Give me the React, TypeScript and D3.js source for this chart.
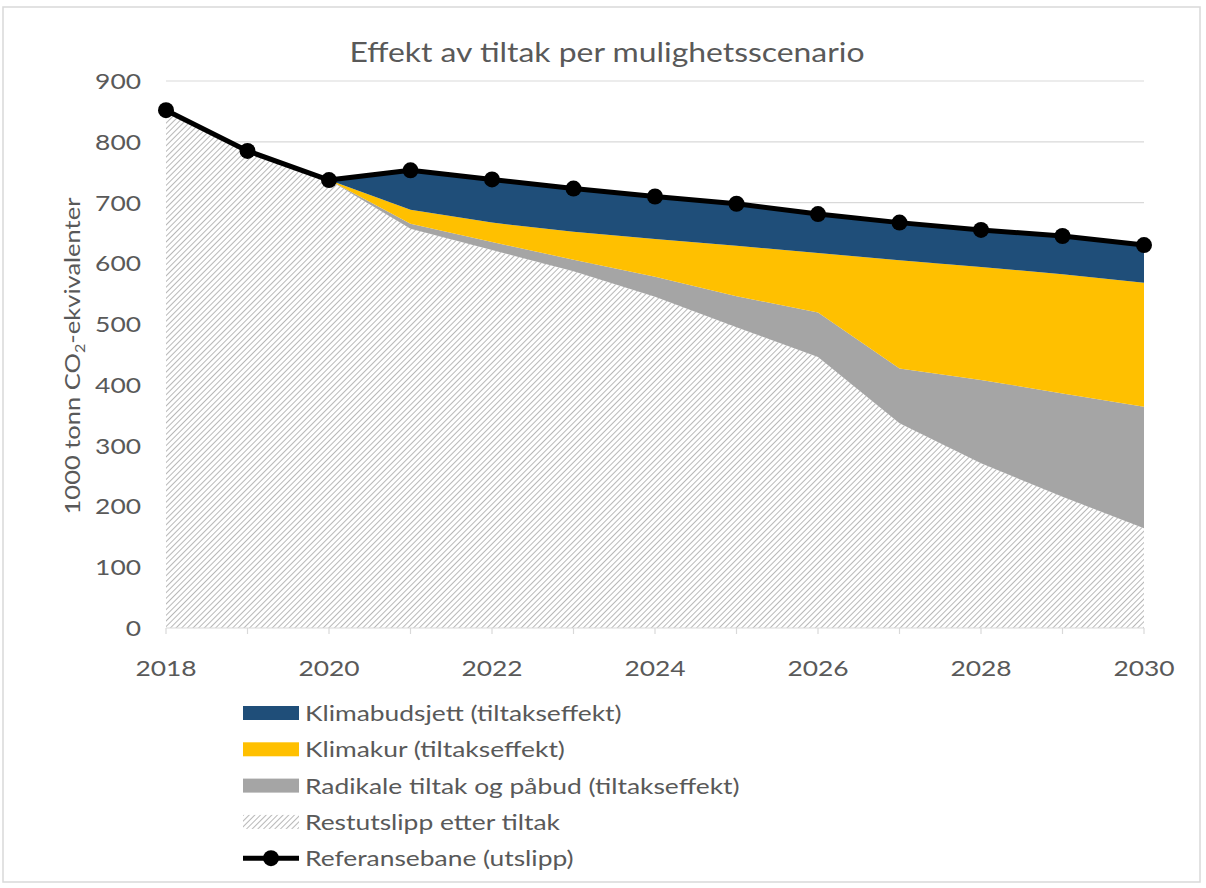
import { useMemo } from "react";
import * as d3 from "d3";

const years = [2018, 2019, 2020, 2021, 2022, 2023, 2024, 2025, 2026, 2027, 2028, 2029, 2030];
const referanse = [852, 785, 737, 753, 738, 723, 710, 698, 681, 667, 655, 645, 630];
const restutslipp = [852, 785, 737, 657, 622, 587, 545, 495, 446, 337, 271, 216, 164];
const radikale = [0, 0, 0, 8, 13, 19, 33, 51, 73, 90, 137, 170, 200];
const klimakur = [0, 0, 0, 23, 32, 46, 62, 83, 98, 178, 186, 196, 204];
const klimabudsjett = [0, 0, 0, 65, 71, 71, 70, 69, 64, 62, 61, 63, 62];
const yTicks = [0, 100, 200, 300, 400, 500, 600, 700, 800, 900];
const xLabelYears = [2018, 2020, 2022, 2024, 2026, 2028, 2030];

const keys = ["rest", "radikale", "klimakur", "klimabudsjett"] as const;
const fills: Record<string, string> = {
  rest: "url(#hatch)",
  radikale: "#a5a5a5",
  klimakur: "#ffc000",
  klimabudsjett: "#1f4e79",
};

const legendItems = [
  { key: "klimabudsjett", label: "Klimabudsjett (tiltakseffekt)" },
  { key: "klimakur", label: "Klimakur (tiltakseffekt)" },
  { key: "radikale", label: "Radikale tiltak og påbud (tiltakseffekt)" },
  { key: "rest", label: "Restutslipp etter tiltak" },
  { key: "ref", label: "Referansebane (utslipp)" },
];

const FONT = "Lato, 'Open Sans', sans-serif";
const TEXT = "#595959";
// the source picture is stretched sideways, so its text is wider than normal
const STRETCH = 1.2;

function WideText({
  x,
  y,
  anchor = "start",
  size = 22,
  children,
}: {
  x: number;
  y: number;
  anchor?: "start" | "middle" | "end";
  size?: number;
  children: React.ReactNode;
}) {
  return (
    <text
      transform={`translate(${x},${y}) scale(${STRETCH},1)`}
      textAnchor={anchor}
      fontFamily={FONT}
      fontSize={size}
      fill={TEXT}
    >
      {children}
    </text>
  );
}

export default function App() {
  const width = 1206;
  const height = 888;
  const plot = { left: 166, right: 1144, top: 81, bottom: 628 };

  const x = d3.scaleLinear().domain([2018, 2030]).range([plot.left, plot.right]);
  const y = d3.scaleLinear().domain([0, 900]).range([plot.bottom, plot.top]);

  const rows = useMemo(
    () =>
      years.map((year, i) => ({
        year,
        rest: restutslipp[i],
        radikale: radikale[i],
        klimakur: klimakur[i],
        klimabudsjett: klimabudsjett[i],
      })),
    [],
  );

  const series = d3.stack<any>().keys(keys as unknown as string[])(rows);
  const area = d3
    .area<any>()
    .x((d) => x(d.data.year))
    .y0((d) => y(d[0]))
    .y1((d) => y(d[1]));

  const refPoints = years.map((year, i) => [x(year), y(referanse[i])] as [number, number]);
  const refLine = d3.line()(refPoints) ?? "";

  const legendX = 243;
  const legendY = 713;
  const legendStep = 36.3;

  return (
    <div style={{ position: "absolute", left: 0, top: 0 }}>
      <svg width={width} height={height} style={{ display: "block", background: "#fff" }}>
        <defs>
          <pattern id="hatch" width="4" height="4" patternUnits="userSpaceOnUse" patternTransform="rotate(45)">
            <rect width="4" height="4" fill="#ffffff" />
            <line x1="0" y1="0" x2="0" y2="4" stroke="#a6a6a6" strokeWidth="1.6" />
          </pattern>
        </defs>

        <rect x={3} y={7} width={1197} height={875} fill="#fff" stroke="#d9d9d9" strokeWidth={1.5} />

        <text
          x={607}
          y={62}
          textAnchor="middle"
          fontFamily={FONT}
          fontSize={26}
          fill={TEXT}
          textLength={515}
          lengthAdjust="spacingAndGlyphs"
        >
          Effekt av tiltak per mulighetsscenario
        </text>

        {/* gridlines */}
        {yTicks.filter((t) => t > 0).map((t) => (
          <line key={t} x1={plot.left} x2={plot.right} y1={y(t)} y2={y(t)} stroke="#d9d9d9" strokeWidth={1.2} />
        ))}

        {/* stacked areas */}
        {series.map((s) => (
          <path key={s.key} d={area(s) ?? ""} fill={fills[s.key]} />
        ))}

        {/* x axis */}
        <line x1={plot.left} x2={plot.right} y1={y(0)} y2={y(0)} stroke="#d9d9d9" strokeWidth={1.2} />
        {years.map((yr) => (
          <line key={yr} x1={x(yr)} x2={x(yr)} y1={y(0)} y2={y(0) + 6} stroke="#d9d9d9" strokeWidth={1.2} />
        ))}
        {xLabelYears.map((yr) => (
          <WideText key={yr} x={x(yr)} y={y(0) + 48} anchor="middle">
            {yr}
          </WideText>
        ))}

        {/* y axis labels */}
        {yTicks.map((t) => (
          <WideText key={t} x={141} y={y(t) + 8} anchor="end">
            {t}
          </WideText>
        ))}

        <text
          transform={`translate(80,356) rotate(-90) scale(1.16,1)`}
          textAnchor="middle"
          fontFamily={FONT}
          fontSize={22}
          fill={TEXT}
        >
          1000 tonn CO<tspan fontSize={14} dy={5}>2</tspan>
          <tspan dy={-5}>-ekvivalenter</tspan>
        </text>

        {/* reference line */}
        <path d={refLine} fill="none" stroke="#000" strokeWidth={5} strokeLinejoin="round" />
        {refPoints.map(([px, py], i) => (
          <circle key={i} cx={px} cy={py} r={8} fill="#000" />
        ))}

        {/* legend */}
        {legendItems.map((item, i) => {
          const cy = legendY + i * legendStep;
          return (
            <g key={item.key}>
              {item.key === "ref" ? (
                <g>
                  <line x1={legendX} x2={legendX + 56} y1={cy} y2={cy} stroke="#000" strokeWidth={5} />
                  <circle cx={legendX + 28} cy={cy} r={8} fill="#000" />
                </g>
              ) : (
                <rect x={legendX} y={cy - 7} width={56} height={14} fill={fills[item.key]} />
              )}
              <WideText x={legendX + 62} y={cy + 8}>
                {item.label}
              </WideText>
            </g>
          );
        })}
      </svg>
    </div>
  );
}
